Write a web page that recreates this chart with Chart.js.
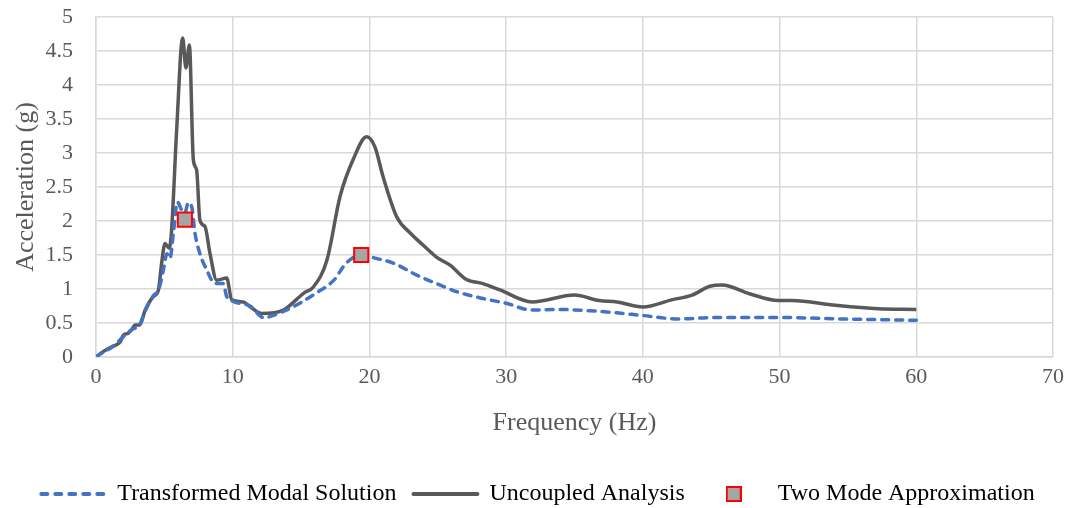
<!DOCTYPE html>
<html>
<head>
<meta charset="utf-8">
<script src="https://cdn.jsdelivr.net/npm/chart.js@4"></script>
<style>
  html, body { margin: 0; padding: 0; background: #fff; overflow: hidden; }
  #wrap { width: 1076px; height: 516px; }
</style>
</head>
<body>
<div id="wrap"><canvas id="myChart"></canvas></div>
<script>
// Uncoupled Analysis (grey solid)
const freqU = [0, 0.54, 1.15, 1.5, 1.8, 2.0, 2.36, 2.6, 2.85, 3.2, 3.6, 4.2, 4.56, 4.8, 5.05, 5.36, 5.53, 5.9, 6.34, 6.58, 6.83, 7.12, 7.36, 7.6, 7.97, 8.34, 8.83, 9.56, 9.93, 10.78, 11.27, 12.1, 13.7, 15.2, 15.9, 16.9, 17.85, 18.8, 19.8, 20.4, 21.0, 22.0, 23.0, 23.9, 24.9, 25.9, 27.1, 28.3, 29.5, 31.9, 35.0, 36.8, 38.1, 40.0, 42.1, 43.6, 44.9, 45.8, 47.8, 49.9, 50.9, 54.1, 57.2, 60];
const accU  = [0, 0.08, 0.15, 0.18, 0.23, 0.32, 0.35, 0.40, 0.47, 0.47, 0.69, 0.89, 0.98, 1.38, 1.67, 1.6, 1.87, 3.34, 4.69, 4.25, 4.59, 2.9, 2.75, 2.01, 1.92, 1.52, 1.13, 1.16, 0.84, 0.81, 0.74, 0.64, 0.69, 0.94, 1.03, 1.43, 2.36, 2.9, 3.24, 3.09, 2.65, 2.06, 1.82, 1.65, 1.47, 1.35, 1.14, 1.08, 0.99, 0.81, 0.91, 0.83, 0.81, 0.735, 0.84, 0.91, 1.04, 1.06, 0.93, 0.83, 0.83, 0.76, 0.71, 0.70];

// Transformed Modal Solution (blue dashed)
const freqT = [0, 0.6, 1.2, 2.0, 2.6, 3.2, 3.6, 4.2, 4.6, 5.0, 5.17, 5.41, 5.66, 5.95, 6.27, 6.5, 6.75, 7.0, 7.24, 7.6, 8.1, 8.7, 9.3, 9.56, 10.0, 11.27, 12.25, 13.7, 14.9, 16.1, 17.4, 18.3, 19.4, 20.5, 21.75, 23.5, 24.9, 26.4, 28.3, 30.0, 31.9, 33.7, 36.1, 38.1, 40.0, 42.6, 45.2, 50.4, 54.3, 60];
const accT  = [0, 0.08, 0.15, 0.3, 0.4, 0.48, 0.68, 0.9, 1.0, 1.35, 1.52, 1.45, 1.82, 2.28, 2.16, 2.12, 2.27, 2.21, 1.82, 1.52, 1.28, 1.08, 1.08, 0.89, 0.82, 0.75, 0.58, 0.67, 0.79, 0.94, 1.13, 1.38, 1.5, 1.45, 1.38, 1.2, 1.08, 0.96, 0.86, 0.79, 0.69, 0.70, 0.68, 0.65, 0.61, 0.56, 0.58, 0.58, 0.56, 0.54];

// Two Mode Approximation (markers)
const freqM = [6.5, 19.4];
const accM  = [2.02, 1.5];

const xTicks = [0, 10, 20, 30, 40, 50, 60, 70];

const toPts = (xs, ys) => xs.map((x, i) => ({ x: x, y: ys[i] }));

// legend swatch for the square marker
const sq = document.createElement('canvas');
sq.width = 16; sq.height = 16;
const sctx = sq.getContext('2d');
sctx.fillStyle = '#a5a5a5';
sctx.fillRect(1, 1, 14, 14);
sctx.strokeStyle = '#ff0000';
sctx.lineWidth = 2;
sctx.strokeRect(1, 1, 14, 14);

const font = 'Liberation Serif, Times New Roman, serif';
const txt = '#595959';

const ctx = document.getElementById('myChart').getContext('2d');
const chart = new Chart(ctx, {
  type: 'line',
  data: {
    datasets: [{
      label: 'Transformed Modal Solution',
      data: toPts(freqT, accT),
      borderColor: '#4472c4',
      borderWidth: 3.5,
      borderDash: [7, 7],
      borderCapStyle: 'round',
      pointRadius: 0,
      cubicInterpolationMode: 'monotone',
      order: 2
    }, {
      label: 'Uncoupled Analysis',
      data: toPts(freqU, accU),
      borderColor: '#595959',
      borderWidth: 3.5,
      pointRadius: 0,
      cubicInterpolationMode: 'monotone',
      order: 3
    }, {
      label: 'Two Mode Approximation',
      data: toPts(freqM, accM),
      showLine: false,
      pointStyle: 'rect',
      pointRadius: 10,
      pointBackgroundColor: '#a5a5a5',
      pointBorderColor: '#ff0000',
      pointBorderWidth: 2,
      order: 1
    }]
  },
  options: {
    responsive: true,
    maintainAspectRatio: false,
    animation: false,
    layout: { padding: { left: 0, right: 0, top: 17, bottom: 0 } },
    plugins: {
      tooltip: { enabled: false },
      legend: {
        position: 'bottom',
        labels: {
          font: { family: font, size: 24 },
          color: txt,
          usePointStyle: true,
          pointStyleWidth: 64,
          padding: 17,
          generateLabels: (c) => [
            { text: 'Transformed Modal Solution', pointStyle: 'line', strokeStyle: '#4472c4', lineWidth: 4, lineDash: [6, 8], lineCap: 'round', datasetIndex: 0 },
            { text: 'Uncoupled Analysis', pointStyle: 'line', strokeStyle: '#595959', lineWidth: 4, lineCap: 'round', datasetIndex: 1 },
            { text: 'Two Mode Approximation', pointStyle: sq, datasetIndex: 2 }
          ]
        }
      }
    },
    scales: {
      x: {
        type: 'linear',
        min: 0,
        max: 70,
        afterBuildTicks: (s) => { s.ticks = xTicks.map(v => ({ value: v })); },
        afterFit: (s) => { s.height = 108; s.paddingRight = 23; },
        grid: { color: '#d9d9d9', lineWidth: 1.5, drawTicks: false },
        border: { color: '#d9d9d9', width: 1.5 },
        ticks: { font: { family: font, size: 22 }, color: txt, padding: 7 },
        title: { display: true, text: 'Frequency (Hz)', font: { family: font, size: 26 }, color: txt, padding: { top: 4, bottom: 26 } }
      },
      y: {
        min: 0,
        max: 5,
        afterFit: (s) => { s.width = 96; s.paddingTop = 0; s.paddingBottom = 0; },
        grid: { color: '#d9d9d9', lineWidth: 1.5, drawTicks: false },
        border: { color: '#d9d9d9', width: 1.5 },
        ticks: { stepSize: 0.5, font: { family: font, size: 22 }, color: txt, padding: 23, callback: (v) => String(v) },
        title: { display: true, text: 'Acceleration (g)', font: { family: font, size: 26 }, color: txt, padding: { top: 11, bottom: 0 } }
      }
    }
  }
});
</script>
</body>
</html>
